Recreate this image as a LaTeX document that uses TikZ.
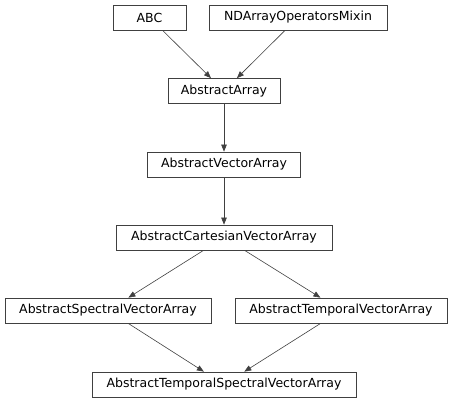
\documentclass[tikz,border=0pt]{standalone}
\usepackage{fontspec}
\setmainfont{DejaVu Sans}
\usetikzlibrary{arrows.meta}
\begin{document}
\begin{tikzpicture}[x=1pt,y=1pt,
  cls/.style={draw=black!75,line width=0.7pt,rectangle,inner sep=0pt,minimum height=25pt,
    font=\fontsize{12.5}{14}\selectfont},
  inh/.style={draw=black!75,line width=0.6pt,-{Triangle[length=7pt,width=5.5pt]}}]
\useasboundingbox (0,0) rectangle (453,403);
\node[cls,minimum width=73pt]  (abc) at (149.5,385.5) {ABC};
\node[cls,minimum width=178pt] (nd)  at (298,385.5) {NDArrayOperatorsMixin};
\node[cls,minimum width=112pt] (aa)  at (224,312) {AbstractArray};
\node[cls,minimum width=153pt] (ava) at (224,238.5) {AbstractVectorArray};
\node[cls,minimum width=216pt] (acva) at (224,165.5) {AbstractCartesianVectorArray};
\node[cls,minimum width=206pt] (asva) at (108,92.5) {AbstractSpectralVectorArray};
\node[cls,minimum width=212pt] (atva) at (341,92.5) {AbstractTemporalVectorArray};
\node[cls,minimum width=264pt] (atsva) at (224,18.5) {AbstractTemporalSpectralVectorArray};
\draw[inh] (abc) -- (aa);
\draw[inh] (nd) -- (aa);
\draw[inh] (aa) -- (ava);
\draw[inh] (ava) -- (acva);
\draw[inh] (acva) -- (asva);
\draw[inh] (acva) -- (atva);
\draw[inh] (asva) -- (atsva);
\draw[inh] (atva) -- (atsva);
\end{tikzpicture}
\end{document}
